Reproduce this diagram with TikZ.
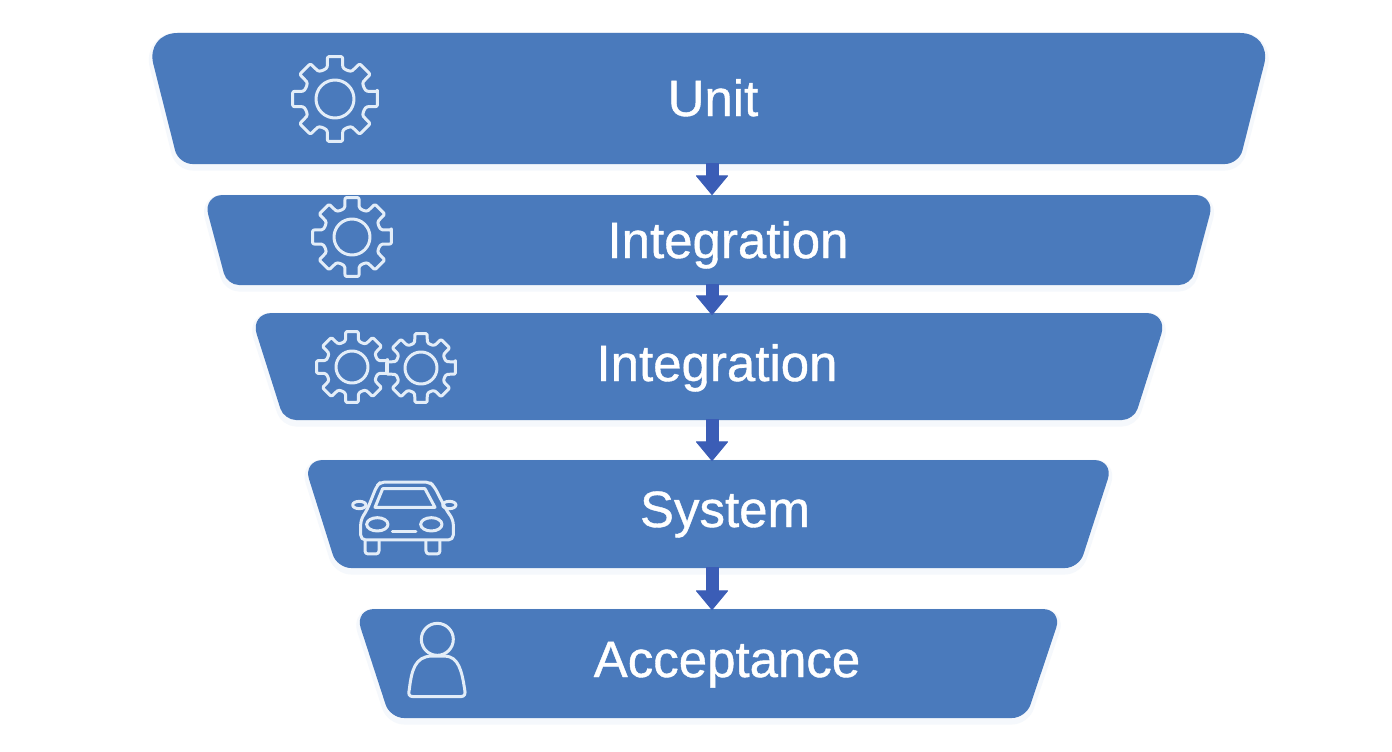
\documentclass[tikz,border=0pt]{standalone}
\usepackage{fontspec}
\setmainfont{Liberation Sans}
\newfontfamily\labelfont{Liberation Sans}[RawFeature={embolden=0.8}]
\usetikzlibrary{arrows.meta}
\definecolor{bandblue}{HTML}{4A7ABC}
\definecolor{flowblue}{HTML}{3B5DB6}
\definecolor{halo}{HTML}{F5F8FC}
\definecolor{iconwhite}{HTML}{E3EDF8}
\tikzset{
  bandshape/.style={fill=bandblue},
  bandhalo/.style={draw=halo,line width=7pt,fill=halo},
  label/.style={text=white,font=\labelfont\fontsize{51}{60}\selectfont,inner sep=0pt,anchor=base},
  flow/.style={draw=flowblue,line width=13pt,-{Triangle[width=33pt,length=20pt,round,line width=1pt]}},
  icon/.style={draw=iconwhite,line width=3pt,line join=round,line cap=round}
}
% y1 y2 xtl xtr xbl xbr rtop rbottom
\def\bandpath#1#2#3#4#5#6#7#8{(700,#1) [rounded corners=#7pt] -- (#4,#1) -- ({(#4+#6)/2},{(#1+#2)/2}) [rounded corners=#8pt] -- (#6,#2) -- (#5,#2) -- ({(#3+#5)/2},{(#1+#2)/2}) [rounded corners=#7pt] -- (#3,#1) -- cycle}
\newcommand{\gearicon}[4]{% cx cy R r
  \begin{scope}[shift={(#1,#2)}]
    \draw[icon,rounded corners=1.2pt] (-10:#3)
      \foreach \a in {0,45,...,315}{
        -- ({\a-10}:#3) -- ({\a+10}:#3)
        -- ({\a+14}:#3*0.75) -- ({\a+22.5}:#3*0.72) -- ({\a+31}:#3*0.75)
      } -- cycle;
    \draw[icon] (0,0) circle[radius=#4];
  \end{scope}}
\begin{document}
\begin{tikzpicture}[x=1pt,y=-1pt]
\useasboundingbox (0,0) rectangle (1392,752);
\fill[white] (0,0) rectangle (1392,752);
% soft halos
\fill[bandhalo,yshift=-3pt] \bandpath{33}{164}{145.5}{1272}{178.5}{1239}{32}{14};
\fill[bandhalo,yshift=-3pt] \bandpath{195}{285}{203}{1215}{227}{1191}{20}{12};
\fill[bandhalo,yshift=-3pt] \bandpath{313}{420}{250}{1168}{284}{1134}{22}{12};
\fill[bandhalo,yshift=-3pt] \bandpath{460}{568}{303}{1114}{337}{1079}{20}{14};
\fill[bandhalo,yshift=-3pt] \bandpath{609}{718}{354.5}{1062.5}{390}{1026}{20}{14};
% bands
\fill[bandshape] \bandpath{33}{164}{145.5}{1272}{178.5}{1239}{32}{14};
\fill[bandshape] \bandpath{195}{285}{203}{1215}{227}{1191}{20}{12};
\fill[bandshape] \bandpath{313}{420}{250}{1168}{284}{1134}{22}{12};
\fill[bandshape] \bandpath{460}{568}{303}{1114}{337}{1079}{20}{14};
\fill[bandshape] \bandpath{609}{718}{354.5}{1062.5}{390}{1026}{20}{14};
% connector ends
\coordinate (u1) at (712,163); \coordinate (u2) at (712,195);
\coordinate (i1) at (712,284); \coordinate (i2) at (712,315);
\coordinate (j1) at (712,419); \coordinate (j2) at (712,461);
\coordinate (s1) at (712,567); \coordinate (s2) at (712,610);
\draw[flow] (u1) -- (u2);
\draw[flow] (i1) -- (i2);
\draw[flow] (j1) -- (j2);
\draw[flow] (s1) -- (s2);
% labels
\node[label] (unit) at (713,116) {Unit};
\node[label] (integ1) at (728,258) {Integration};
\node[label] (integ2) at (717,381) {Integration};
\node[label] (system) at (725,527) {System};
\node[label] (accept) at (727,677) {Acceptance};
% gears
\gearicon{335}{99}{43}{19}
\gearicon{352}{237}{40}{18}
\gearicon{352}{367}{36}{16}
\gearicon{421}{368}{35}{16}
% car
\begin{scope}[shift={(340,470)},x=0.3333pt,y=-0.3333pt]
  \draw[icon,rounded corners=5pt] (62,210) -- (62,150) -- (82,118) -- (110,48) -- (122,36) -- (268,36) -- (282,48) -- (318,118) -- (340,150) -- (340,210) -- cycle;
  \draw[icon] (105,112) -- (128,56) -- (255,56) -- (285,112) -- cycle;
  \draw[icon] (112,163) ellipse[x radius=32,y radius=20];
  \draw[icon] (274,163) ellipse[x radius=32,y radius=20];
  \draw[icon] (157,186) -- (228,186);
  \draw[icon] (58,105) ellipse[x radius=20,y radius=11];
  \draw[icon] (328,105) ellipse[x radius=20,y radius=11];
  \draw[icon,rounded corners=3pt] (75,212) -- (75,252) -- (117,252) -- (117,212);
  \draw[icon,rounded corners=3pt] (258,212) -- (258,252) -- (300,252) -- (300,212);
\end{scope}
% person
\begin{scope}[shift={(390,610)},x=0.3333pt,y=-0.3333pt]
  \draw[icon] (142,88) circle[radius=16pt];
  \draw[icon] (70,260) .. controls (55,260) and (55,250) .. (58,238) .. controls (65,180) and (75,140) .. (125,138) -- (165,138) .. controls (205,140) and (215,180) .. (224,238) .. controls (227,250) and (225,260) .. (212,260) -- cycle;
\end{scope}
\end{tikzpicture}
\end{document}
